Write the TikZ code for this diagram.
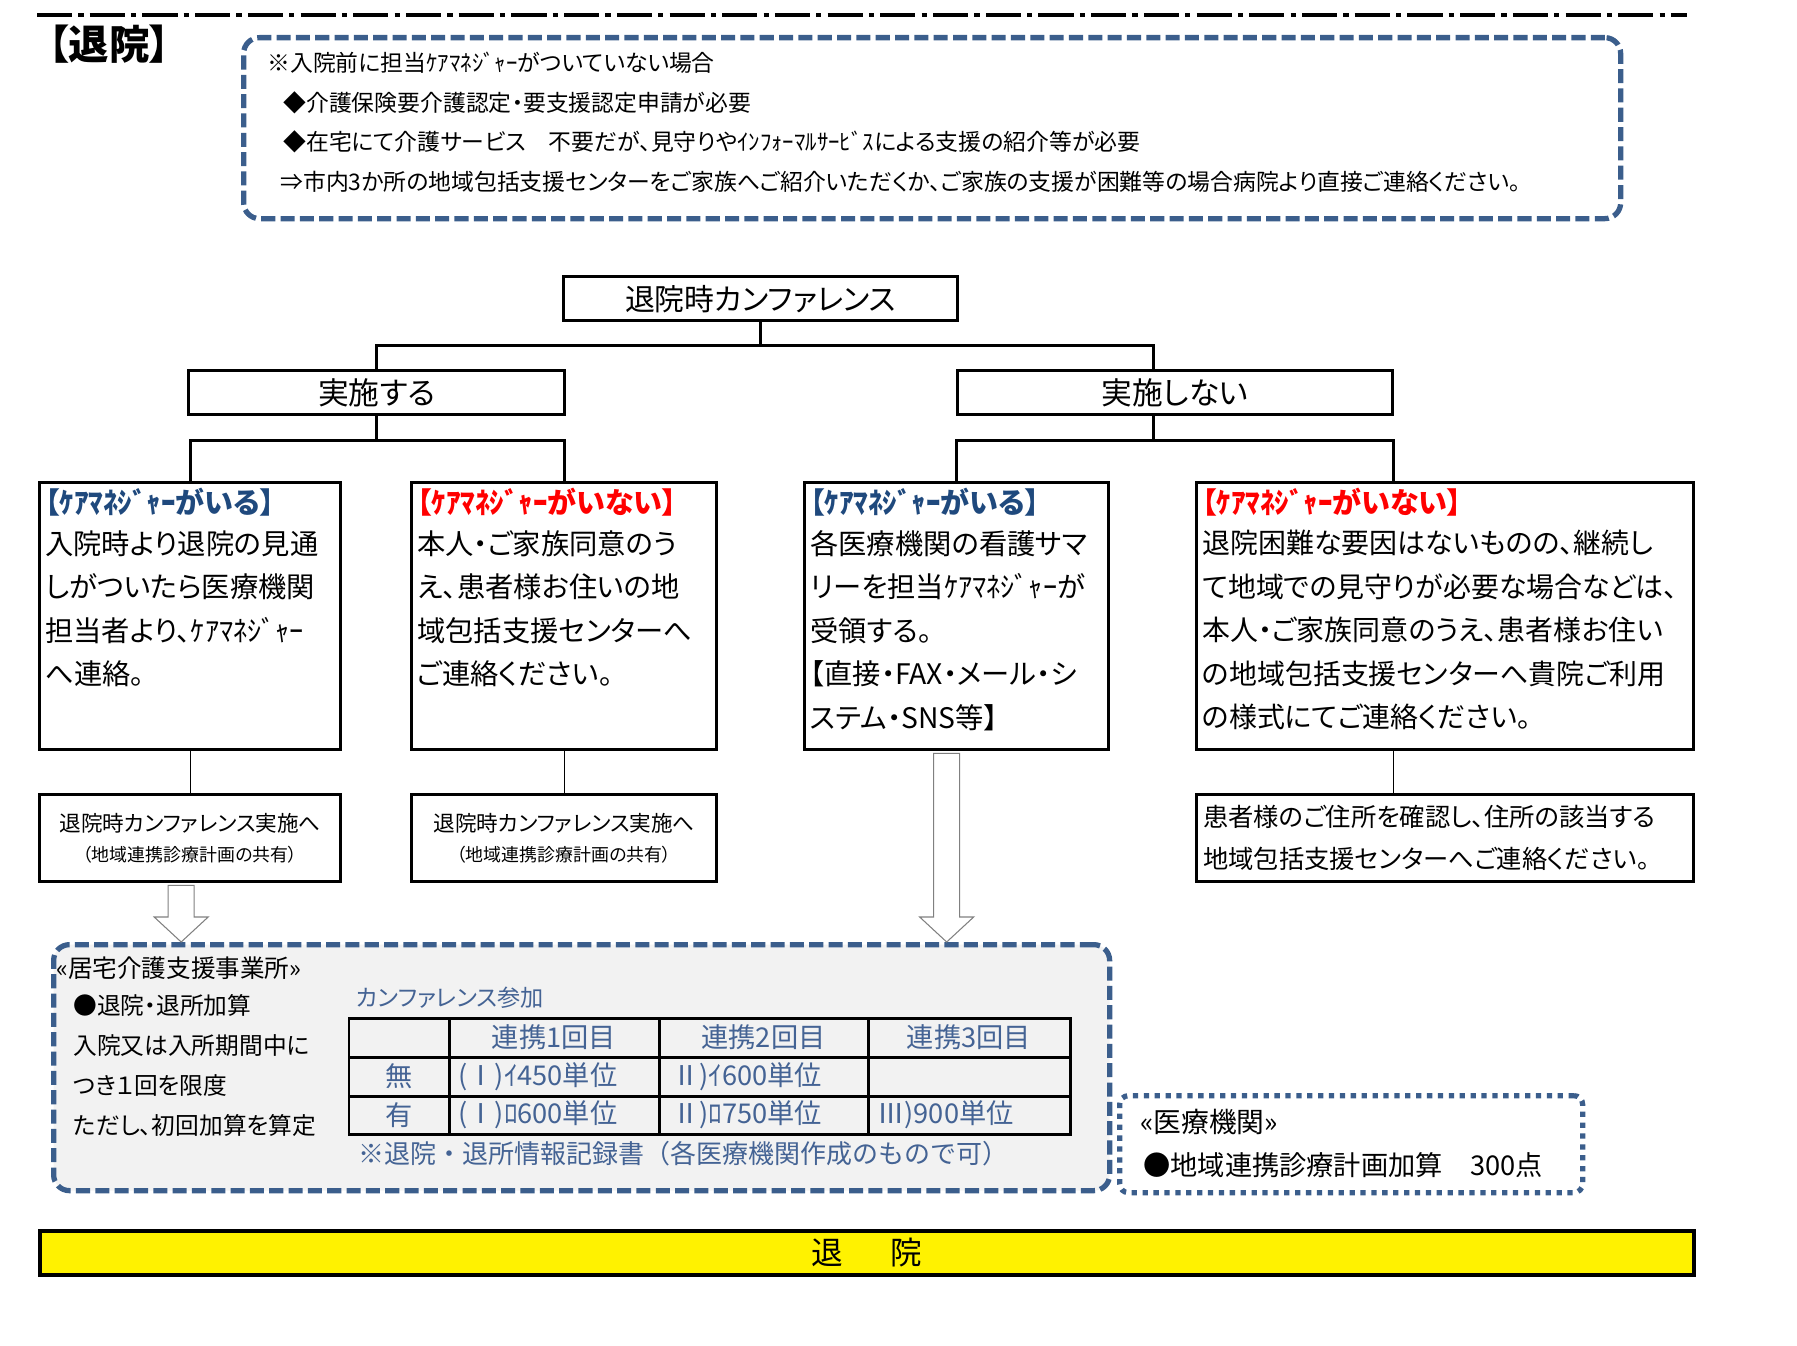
\documentclass[tikz,border=0pt]{standalone}
\usepackage{fontspec}
\setmainfont{Noto Sans CJK JP}[RawFeature=+palt]
\newfontfamily\fixedjp{Noto Sans CJK JP}
\usepackage{xcolor}
\usetikzlibrary{positioning,calc}
\definecolor{frameblue}{RGB}{59,94,140}
\definecolor{headblue}{RGB}{31,73,125}
\definecolor{cellblue}{RGB}{68,99,148}
\definecolor{panelgray}{RGB}{242,242,242}
\newcommand{\fsz}[2]{\fontsize{#1}{#2}\selectfont}
\newcommand{\hollowarrow}[2]{%
  \draw[hollow] let \p1=(#1), \p2=(#2) in
    (\x1-0.26cm,\y1) -- (\x1-0.26cm,\y2+0.5cm) -- (\x1-0.54cm,\y2+0.5cm)
    -- (\x1,\y2) -- (\x1+0.54cm,\y2+0.5cm) -- (\x1+0.26cm,\y2+0.5cm)
    -- (\x1+0.26cm,\y1) -- cycle;}

\begin{document}
\begin{tikzpicture}[x=0.02cm,y=-0.02cm,
  wh/.style 2 args={minimum width=#1*0.02cm,minimum height=#2*0.02cm},
  frame/.style={draw,line width=1.9pt,inner sep=0pt,anchor=north west},
  link/.style={line width=1.8pt},
  thin link/.style={line width=0.6pt},
  bluedash/.style={draw=frameblue,line width=3pt,dash pattern=on 8pt off 3pt,
    rounded corners=9pt,inner sep=0pt,anchor=north west},
  bluedot/.style={draw=frameblue,line width=3pt,dash pattern=on 3pt off 3.2pt,
    rounded corners=5pt,inner sep=0pt,anchor=north west},
  hollow/.style={draw=black!50,line width=0.6pt,fill=white},
  txt/.style={inner sep=0pt,anchor=west},
  head/.style={inner sep=0pt,anchor=west,font=\fsz{16.5}{19}\bfseries},
  body/.style={inner sep=0pt,anchor=north west,align=left,font=\fsz{16.1}{24.75}},
  cell/.style={inner sep=0pt,text=cellblue,font=\fsz{15.5}{18}},
]
\useasboundingbox (0,0) rectangle (1797,1345);

% header rule and title
\draw[line width=2.5pt,dash pattern=on 20pt off 3.5pt on 3pt off 3.5pt] (37,15) -- (1687,15);
\node[inner sep=0pt,font=\fsz{23}{26}\bfseries] (title) at (109,44) {【退院】};

% note for patients without a care manager
\node[bluedash,wh={1377}{181}] (note) at (241,35) {};
\node[txt,font=\fsz{13}{15}] at ($(note.north west)+(26,28)$) {※入院前に担当ｹｱﾏﾈｼﾞｬｰがついていない場合};
\node[txt,font=\fsz{13}{15}] at ($(note.north west)+(42,68)$) {◆介護保険要介護認定・要支援認定申請が必要};
\node[txt,font=\fsz{13}{15}] at ($(note.north west)+(42,107)$) {◆在宅にて介護サービス　不要だが、見守りやｲﾝﾌｫｰﾏﾙｻｰﾋﾞｽによる支援の紹介等が必要};
\node[txt,font=\fsz{13}{15}] at ($(note.north west)+(39,147)$) {⇒市内3か所の地域包括支援センターをご家族へご紹介いただくか、ご家族の支援が困難等の場合病院より直接ご連絡ください。};

% conference tree
\node[frame,wh={394}{44},font=\fsz{17}{20}] (conf) at (562,275) {退院時カンファレンス};
\node[frame,wh={376}{44},font=\fsz{17.5}{20}] (held) at (187,369) {実施する};
\node[frame,wh={435}{44},font=\fsz{17.5}{20}] (notheld) at (956,369) {実施しない};

\node[frame,wh={301}{267}] (caseA) at (38,481) {};
\node[frame,wh={305}{267}] (caseB) at (410,481) {};
\node[frame,wh={304}{267}] (caseC) at (803,481) {};
\node[frame,wh={497}{267}] (caseD) at (1195,481) {};

\node[frame,wh={301}{87}] (confA) at (38,793) {};
\node[frame,wh={305}{87}] (confB) at (410,793) {};
\node[frame,wh={497}{87}] (addrD) at (1195,793) {};

% connectors
\draw[link] (conf.south) -- ++(0,23) coordinate (busC);
\draw[link] (held.north) |- (busC) -| ($(notheld.north west)!0.45!(notheld.north east)$);
\draw[link] (held.south) -- ++(0,24) coordinate (busL);
\draw[link] (caseA.north) |- (busL) -| (caseB.north);
\draw[link] ($(notheld.south west)!0.45!(notheld.south east)$) -- ++(0,24) coordinate (busR);
\draw[link] (caseC.north) |- (busR) -| ($(caseD.north west)!0.396!(caseD.north east)$);
\draw[thin link] (caseA.south) -- (confA.north);
\draw[thin link] (caseB.south) -- (confB.north);
\draw[thin link] ($(caseD.south west)!0.396!(caseD.south east)$) -- ($(addrD.north west)!0.396!(addrD.north east)$);

% case texts
\node[head,text=headblue] at ($(caseA.north west)+(7,21)$) {【ｹｱﾏﾈｼﾞｬｰがいる】};
\node[body] at ($(caseA.north west)+(7,49)$) {入院時より退院の見通\\しがついたら医療機関\\担当者より、ｹｱﾏﾈｼﾞｬｰ\\へ連絡。};
\node[head,text=red] at ($(caseB.north west)+(7,21)$) {【ｹｱﾏﾈｼﾞｬｰがいない】};
\node[body] at ($(caseB.north west)+(7,49)$) {本人・ご家族同意のう\\え、患者様お住いの地\\域包括支援センターへ\\ご連絡ください。};
\node[head,text=headblue] at ($(caseC.north west)+(7,21)$) {【ｹｱﾏﾈｼﾞｬｰがいる】};
\node[body] at ($(caseC.north west)+(7,49)$) {各医療機関の看護サマ\\リーを担当ｹｱﾏﾈｼﾞｬｰが\\受領する。\\【直接・FAX・メール・シ\\ステム・SNS等】};
\node[head,text=red] at ($(caseD.north west)+(7,21)$) {【ｹｱﾏﾈｼﾞｬｰがいない】};
\node[body,font=\fsz{15.9}{24.75}] at ($(caseD.north west)+(7,49)$) {退院困難な要因はないものの、継続し\\て地域での見守りが必要な場合などは、\\本人・ご家族同意のうえ、患者様お住い\\の地域包括支援センターへ貴院ご利用\\の様式にてご連絡ください。};

% follow-up texts
\foreach \tgt in {confA,confB} {
  \node[inner sep=0pt,font=\fsz{12.3}{14}] at ($(\tgt.center)+(0,-14.5)$) {退院時カンファレンス実施へ};
  \node[inner sep=0pt,font=\fsz{10.2}{12}] at ($(\tgt.center)+(0,16.5)$) {（地域連携診療計画の共有）};
}
\node[txt,align=left,font=\fsz{14.4}{23.9}] at ($(addrD.west)+(8,0)$) {患者様のご住所を確認し、住所の該当する\\地域包括支援センターへご連絡ください。};

% care support office panel
\node[bluedash,fill=panelgray,wh={1056}{246}] (panel) at (51,942) {};
\coordinate (arrA) at ($(confA.south)+(-9,2)$);
\hollowarrow{arrA}{arrA |- panel.north}
\coordinate (arrC) at ($(caseC.south)+(-10,2)$);
\hollowarrow{arrC}{arrC |- panel.north}
\node[txt,font=\fsz{14}{16}] at ($(panel.north west)+(5,26)$) {«居宅介護支援事業所»};
\node[body,font=\fsz{13.5}{22.8}] at ($(panel.north west)+(22,52)$) {●退院・退所加算\\入院又は入所期間中に\\つき１回を限度\\ただし、初回加算を算定};
\node[txt,text=cellblue,font=\fsz{13.2}{15}] at ($(panel.north west)+(305,56)$) {カンファレンス参加};

% fee table
\coordinate (tbl) at ($(panel.north west)+(298,76)$);
\begin{scope}[shift={(tbl)}]
  \draw[line width=1.7pt] (0,0) rectangle (721,116);
  \foreach \cx in {100,310,519} \draw[line width=1.7pt] (\cx,0) -- (\cx,116);
  \foreach \ry in {39,78} \draw[line width=1.7pt] (0,\ry) -- (721,\ry);
  \foreach \n/\cx in {1/205,2/414.5,3/620} \node[cell] at (\cx,19.5) {連携\n{}回目};
  \node[cell] at (50,58.5) {無};
  \node[cell] at (50,97) {有};
  \node[cell,anchor=west] at (109,58.5) {(Ⅰ)ｲ450単位};
  \node[cell,anchor=west] at (323,58.5) {Ⅱ)ｲ600単位};
  \node[cell,anchor=west] at (109,97) {(Ⅰ)ﾛ600単位};
  \node[cell,anchor=west] at (323,97) {Ⅱ)ﾛ750単位};
  \node[cell,anchor=west] at (528,97) {Ⅲ)900単位};
  \node[cell,anchor=west,font=\fixedjp\fsz{14.8}{17}] at (9,136) {※退院・退所情報記録書（各医療機関作成のもので可）};
\end{scope}

% medical institution box
\node[bluedot,wh={463}{97}] (clinic) at (1117,1093) {};
\node[txt,font=\fsz{15.8}{18}] at ($(clinic.north west)+(23,29)$) {«医療機関»};
\node[txt,font=\fsz{15.5}{18}] at ($(clinic.north west)+(26,72)$) {●地域連携診療計画加算　300点};

% discharge bar
\node[frame,fill=yellow,line width=2.3pt,wh={1654}{44},font=\fsz{18}{20}] (discharge) at (38,1229) {退\hspace{1.5em}院};
\end{tikzpicture}
\end{document}
